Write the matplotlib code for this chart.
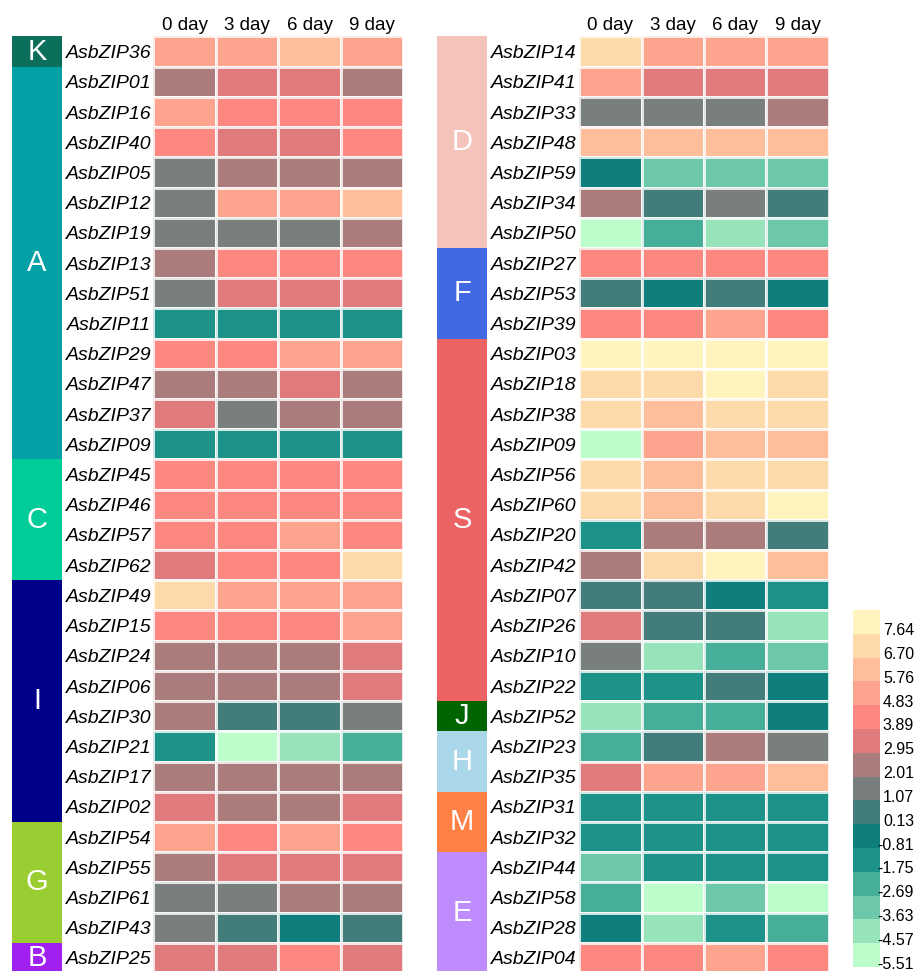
import numpy as np
import matplotlib.pyplot as plt
from matplotlib.colors import ListedColormap, BoundaryNorm

plt.rcParams['font.family'] = ['Liberation Sans', 'DejaVu Sans']

days = ["0 day", "3 day", "6 day", "9 day"]

# ---- left block ----
left_groups = ["K", "A", "C", "I", "G", "B"]
left_group_sizes = [1, 13, 4, 8, 4, 1]
left_group_colors = ["#0B6F5C", "#03A0A6", "#00CC99", "#00008B", "#9ACD32", "#A020F0"]
left_genes = ["AsbZIP36",
              "AsbZIP01", "AsbZIP16", "AsbZIP40", "AsbZIP05", "AsbZIP12", "AsbZIP19",
              "AsbZIP13", "AsbZIP51", "AsbZIP11", "AsbZIP29", "AsbZIP47", "AsbZIP37", "AsbZIP09",
              "AsbZIP45", "AsbZIP46", "AsbZIP57", "AsbZIP62",
              "AsbZIP49", "AsbZIP15", "AsbZIP24", "AsbZIP06", "AsbZIP30", "AsbZIP21",
              "AsbZIP17", "AsbZIP02",
              "AsbZIP54", "AsbZIP55", "AsbZIP61", "AsbZIP43",
              "AsbZIP25"]
left_values = [
    [5.3, 5.3, 6.2, 5.3],
    [2.5, 3.4, 3.4, 2.5],
    [5.3, 4.4, 4.4, 4.4],
    [4.4, 3.4, 3.4, 4.4],
    [1.5, 2.5, 2.5, 2.5],
    [1.5, 5.3, 5.3, 6.2],
    [1.5, 1.5, 1.5, 2.5],
    [2.5, 4.4, 4.4, 4.4],
    [1.5, 3.4, 3.4, 3.4],
    [-1.3, -1.3, -1.3, -1.3],
    [4.4, 4.4, 5.3, 5.3],
    [2.5, 2.5, 3.4, 2.5],
    [3.4, 1.5, 2.5, 2.5],
    [-1.3, -1.3, -1.3, -1.3],
    [4.4, 4.4, 4.4, 4.4],
    [4.4, 4.4, 4.4, 4.4],
    [4.4, 4.4, 5.3, 4.4],
    [3.4, 4.4, 4.4, 7.2],
    [7.2, 5.3, 5.3, 5.3],
    [4.4, 4.4, 4.4, 5.3],
    [2.5, 2.5, 2.5, 3.4],
    [2.5, 2.5, 2.5, 3.4],
    [2.5, 0.6, 0.6, 1.5],
    [-1.3, -5.0, -4.1, -2.2],
    [2.5, 2.5, 2.5, 2.5],
    [3.4, 2.5, 2.5, 3.4],
    [5.3, 4.4, 5.3, 4.4],
    [2.5, 3.4, 3.4, 3.4],
    [1.5, 1.5, 2.5, 2.5],
    [1.5, 0.6, -0.3, 0.6],
    [3.4, 3.4, 4.4, 3.4],
]

# ---- right block ----
right_groups = ["D", "F", "S", "J", "H", "M", "E"]
right_group_sizes = [7, 3, 12, 1, 2, 2, 4]
right_group_colors = ["#F4C3B9", "#4169E1", "#EC6364", "#006400", "#ABD7EB", "#FF8045", "#BF8CFE"]
right_genes = ["AsbZIP14", "AsbZIP41", "AsbZIP33", "AsbZIP48", "AsbZIP59", "AsbZIP34", "AsbZIP50",
               "AsbZIP27", "AsbZIP53", "AsbZIP39",
               "AsbZIP03", "AsbZIP18", "AsbZIP38", "AsbZIP09", "AsbZIP56", "AsbZIP60",
               "AsbZIP20", "AsbZIP42", "AsbZIP07", "AsbZIP26", "AsbZIP10", "AsbZIP22",
               "AsbZIP52",
               "AsbZIP23", "AsbZIP35",
               "AsbZIP31", "AsbZIP32",
               "AsbZIP44", "AsbZIP58", "AsbZIP28", "AsbZIP04"]
right_values = [
    [7.2, 5.3, 5.3, 5.3],
    [5.3, 3.4, 3.4, 3.4],
    [1.5, 1.5, 1.5, 2.5],
    [6.2, 6.2, 6.2, 6.2],
    [-0.3, -3.2, -3.2, -3.2],
    [2.5, 0.6, 1.5, 0.6],
    [-5.0, -2.2, -4.1, -3.2],
    [4.4, 4.4, 4.4, 4.4],
    [0.6, -0.3, 0.6, -0.3],
    [4.4, 4.4, 5.3, 4.4],
    [8.1, 8.1, 8.1, 8.1],
    [7.2, 7.2, 8.1, 7.2],
    [7.2, 6.2, 7.2, 7.2],
    [-5.0, 5.3, 6.2, 6.2],
    [7.2, 6.2, 7.2, 7.2],
    [7.2, 6.2, 7.2, 8.1],
    [-1.3, 2.5, 2.5, 0.6],
    [2.5, 7.2, 8.1, 6.2],
    [0.6, 0.6, -0.3, -1.3],
    [3.4, 0.6, 0.6, -4.1],
    [1.5, -4.1, -2.2, -3.2],
    [-1.3, -1.3, 0.6, -0.3],
    [-4.1, -2.2, -2.2, -0.3],
    [-2.2, 0.6, 2.5, 1.5],
    [3.4, 5.3, 5.3, 6.2],
    [-1.3, -1.3, -1.3, -1.3],
    [-1.3, -1.3, -1.3, -1.3],
    [-3.2, -1.3, -1.3, -1.3],
    [-2.2, -5.0, -3.2, -5.0],
    [-0.3, -4.1, -1.3, -2.2],
    [4.4, 4.4, 5.3, 4.4],
]

# ---- discrete colour scale ----
scale_bounds = [-5.51, -4.57, -3.63, -2.69, -1.75, -0.81, 0.13, 1.07,
                2.01, 2.95, 3.89, 4.83, 5.76, 6.70, 7.64, 8.58]
scale_colors = ["#BDFCCB", "#97E3BA", "#6DC8AA", "#47AE9A", "#1D9288",
                "#0E7F7C", "#427D7C", "#787F7D", "#AB7C7C", "#E07B7D",
                "#FD8882", "#FDA48F", "#FEBE9C", "#FDDAA9", "#FFF4BE"]
cmap = ListedColormap(scale_colors)
norm = BoundaryNorm(scale_bounds, cmap.N)

W, H = 917, 971
fig = plt.figure(figsize=(W / 100, H / 100), dpi=100)


def fig_rect(x0, y0, x1, y1):
    return [x0 / W, 1 - y1 / H, (x1 - x0) / W, (y1 - y0) / H]


def draw_block(hx0, hx1, gx0, gx1, top, bottom, genes, values, groups, sizes, gcolors):
    ax = fig.add_axes(fig_rect(hx0, top, hx1, bottom))
    data = np.array(values)
    n = len(genes)
    ax.pcolormesh(np.arange(5), np.arange(n + 1), data, cmap=cmap, norm=norm,
                  edgecolors=(1, 1, 1, 0.8), linewidth=0.9)
    ax.set_xlim(0, 4)
    ax.set_ylim(n, 0)
    ax.xaxis.tick_top()
    ax.set_xticks(np.arange(4) + 0.5)
    ax.set_xticklabels(days, fontsize=13.5)
    ax.set_yticks(np.arange(n) + 0.5)
    ax.set_yticklabels(genes, fontsize=14, fontstyle='italic')
    ax.tick_params(length=0, pad=1.5)
    ax.tick_params(axis='x', pad=2)
    for s in ax.spines.values():
        s.set_visible(False)

    gax = fig.add_axes(fig_rect(gx0, top, gx1, bottom))
    starts = np.concatenate([[0], np.cumsum(sizes)[:-1]])
    gax.barh(starts, [1] * len(sizes), height=sizes, left=0, align='edge',
             color=gcolors, edgecolor='none')
    for g, st, sz in zip(groups, starts, sizes):
        gax.text(0.5, st + sz / 2, g, color='white', fontsize=21,
                 ha='center', va='center')
    gax.set_xlim(0, 1)
    gax.set_ylim(n, 0)
    gax.axis('off')


draw_block(153.3, 403.3, 12, 62, 36.5, 973, left_genes, left_values,
           left_groups, left_group_sizes, left_group_colors)
draw_block(579, 829, 437, 487, 36.5, 973, right_genes, right_values,
           right_groups, right_group_sizes, right_group_colors)

# ---- colour key ----
cax = fig.add_axes(fig_rect(853, 610, 880, 967))
sm = plt.cm.ScalarMappable(norm=norm, cmap=cmap)
cb = fig.colorbar(sm, cax=cax, boundaries=scale_bounds, spacing='uniform')
cb.outline.set_visible(False)
cb.set_ticks([])
cb.minorticks_off()
cax.tick_params(which='both', length=0, labelright=False, labelleft=False)
for b in scale_bounds[:-1]:
    cax.annotate(f"{b:.2f}", xy=(1, b), xycoords=('axes fraction', 'data'),
                 xytext=(34 * 0.72, 3 * 0.72), textcoords='offset points',
                 ha='right', va='center', fontsize=11.5)

fig.savefig("out.png", dpi=100)
